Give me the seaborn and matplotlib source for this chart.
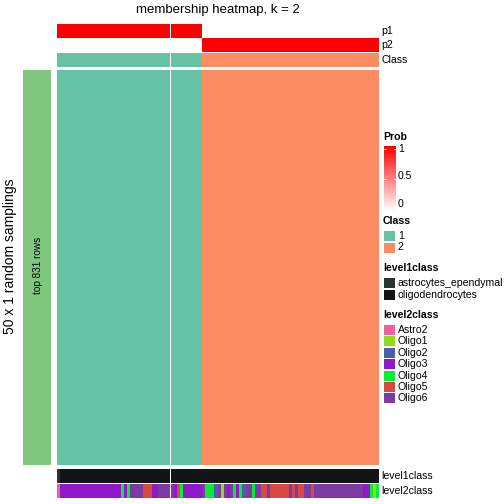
import numpy as np
import pandas as pd
import matplotlib
matplotlib.use("Agg")
import matplotlib.pyplot as plt
from matplotlib.colors import ListedColormap, LinearSegmentedColormap
import seaborn as sns

# ---------------- data ----------------
title = "membership heatmap, k = 2"
n_samplings = 50
top_rows = 831

# level2class runs per column group (label, number of columns)
level2_runs_left = [("Astro2", 1), ("Oligo3", 20), ("Oligo4", 1), ("Oligo3", 1), ("Oligo4", 1),
                    ("Oligo6", 4), ("Oligo5", 3), ("Oligo3", 2), ("Oligo6", 4)]
level2_runs_right = [("Oligo6", 1), ("Oligo3", 1), ("Oligo5", 1), ("Oligo4", 1), ("Oligo3", 6),
                     ("Oligo6", 1), ("Oligo4", 3), ("Oligo2", 1), ("Oligo6", 1), ("Oligo1", 1),
                     ("Oligo6", 1), ("Oligo3", 1), ("Oligo6", 1), ("Oligo4", 1), ("Oligo3", 1),
                     ("Oligo4", 1), ("Oligo2", 1), ("Oligo6", 2), ("Oligo4", 1), ("Oligo6", 2),
                     ("Oligo5", 2), ("Oligo6", 1), ("Oligo5", 6), ("Oligo6", 1), ("Oligo5", 1),
                     ("Oligo6", 1), ("Oligo5", 2), ("Oligo6", 2), ("Oligo5", 1), ("Oligo6", 16),
                     ("Oligo3", 2), ("Oligo4", 1), ("Oligo1", 1), ("Oligo4", 1)]
# class runs per column group
class_runs_left = [(1, 37)]
class_runs_right = [(1, 10), (2, 57)]

level2_levels = ["Astro2", "Oligo1", "Oligo2", "Oligo3", "Oligo4", "Oligo5", "Oligo6"]
level2_colors = ["#F25FA0", "#8EDC1A", "#4A5FAA", "#9318CC", "#06EE33", "#D84A40", "#7B3AA4"]
level1_levels = ["astrocytes_ependymal", "oligodendrocytes"]
level1_colors = ["#263530", "#121416"]
level1_map = {"Astro2": "astrocytes_ependymal"}
class_levels = [1, 2]
class_colors = ["#66C2A5", "#FC8D62"]
rowbar_color = "#7FC97F"


def expand(runs):
    out = []
    for lab, n in runs:
        out += [lab] * n
    return out


groups = []
for l2r, cr in [(level2_runs_left, class_runs_left), (level2_runs_right, class_runs_right)]:
    l2 = expand(l2r)
    cl = expand(cr)
    l1 = [level1_map.get(v, "oligodendrocytes") for v in l2]
    p1 = [1.0 if c == 1 else 0.0 for c in cl]
    p2 = [1.0 - v for v in p1]
    groups.append(dict(l2=l2, cl=cl, l1=l1, p1=p1, p2=p2))

# ---------------- figure ----------------
W = H = 504
fig = plt.figure(figsize=(W / 100, H / 100), dpi=100)
plt.rcParams['font.family'] = ['Liberation Sans', 'DejaVu Sans']


def pax(x0, y0, x1, y1):
    return fig.add_axes([x0 / W, 1 - y1 / H, (x1 - x0) / W, (y1 - y0) / H])


prob_cmap = LinearSegmentedColormap.from_list("prob", ["#FFFFFF", "#FF0000"])
cls_cmap = ListedColormap(class_colors)
l1_cmap = ListedColormap(level1_colors)
l2_cmap = ListedColormap(level2_colors)

col_x = [(57, 170), (171, 379)]
rows = {"p1": (24, 38), "p2": (38, 52), "Class": (53, 67), "main": (70, 465),
        "level1class": (469, 483), "level2class": (484, 498)}


def hm(ax, mat, cmap, vmin, vmax):
    sns.heatmap(mat, ax=ax, cmap=cmap, vmin=vmin, vmax=vmax, cbar=False,
                xticklabels=False, yticklabels=False, linewidths=0)
    ax.set_xlabel("")
    ax.set_ylabel("")


for g, (x0, x1) in zip(groups, col_x):
    n = len(g["cl"])
    hm(pax(x0, rows["p1"][0], x1, rows["p1"][1]), np.array([g["p1"]]), prob_cmap, 0, 1)
    hm(pax(x0, rows["p2"][0], x1, rows["p2"][1]), np.array([g["p2"]]), prob_cmap, 0, 1)
    cidx = np.array([[class_levels.index(c) for c in g["cl"]]])
    hm(pax(x0, rows["Class"][0], x1, rows["Class"][1]), cidx, cls_cmap, -0.5, 1.5)
    main = np.repeat(cidx, n_samplings, axis=0)
    hm(pax(x0, rows["main"][0], x1, rows["main"][1]), main, cls_cmap, -0.5, 1.5)
    l1idx = np.array([[level1_levels.index(v) for v in g["l1"]]])
    hm(pax(x0, rows["level1class"][0], x1, rows["level1class"][1]), l1idx, l1_cmap, -0.5, 1.5)
    l2idx = np.array([[level2_levels.index(v) for v in g["l2"]]])
    hm(pax(x0, rows["level2class"][0], x1, rows["level2class"][1]), l2idx, l2_cmap, -0.5, 6.5)

# row group bar
axr = pax(23, 70, 51, 465)
hm(axr, np.zeros((1, 1)), ListedColormap([rowbar_color]), 0, 1)
fig.text(38 / W, 1 - 265 / H, f"top {top_rows} rows", rotation=90, ha="center", va="center", fontsize=7.2)
fig.text(10.5 / W, 1 - 256 / H, f"{n_samplings} x 1 random samplings", rotation=90, ha="center",
         va="center", fontsize=10.0)

# title
fig.text(218 / W, 1 - 10 / H, title, ha="center", va="center", fontsize=9.5)

# annotation names
for name, yy in [("p1", 31), ("p2", 45), ("Class", 60), ("level1class", 476), ("level2class", 491)]:
    fig.text(381 / W, 1 - yy / H, name, ha="left", va="center", fontsize=7.6)

# ---------------- legends ----------------
fs = 7.6
fig.text(383 / W, 1 - 137 / H, "Prob", ha="left", va="center", fontsize=fs, fontweight="bold")
axc = pax(384, 146, 396, 211)
grad = np.linspace(1, 0, 100).reshape(-1, 1)
hm(axc, grad, prob_cmap, 0, 1)
for v, yy in [(1, 149), (0.5, 176), (0, 204)]:
    fig.text(398 / W, 1 - yy / H, f"{v:g}", ha="left", va="center", fontsize=fs)
for v in [1, 0.5]:
    ypos = (1 - v) * 90 + 5
    axc.plot([0, 0.2], [ypos] * 2, color="white", lw=0.7, alpha=0.8)
    axc.plot([0.8, 1], [ypos] * 2, color="white", lw=0.7, alpha=0.8)


def cat_legend(title_txt, ty, labels, colors, y0, step):
    fig.text(383 / W, 1 - ty / H, title_txt, ha="left", va="center", fontsize=fs, fontweight="bold")
    for i, (lab, col) in enumerate(zip(labels, colors)):
        yy = y0 + i * step
        a = pax(384, yy - 5, 395, yy + 5)
        hm(a, np.zeros((1, 1)), ListedColormap([col]), 0, 1)
        fig.text(398 / W, 1 - yy / H, str(lab), ha="left", va="center", fontsize=fs)


cat_legend("Class", 221, class_levels, class_colors, 236, 11.5)
cat_legend("level1class", 268, level1_levels, level1_colors, 283, 11.5)
cat_legend("level2class", 315, level2_levels, level2_colors, 330, 11.4)

fig.savefig("out.png", dpi=100)
